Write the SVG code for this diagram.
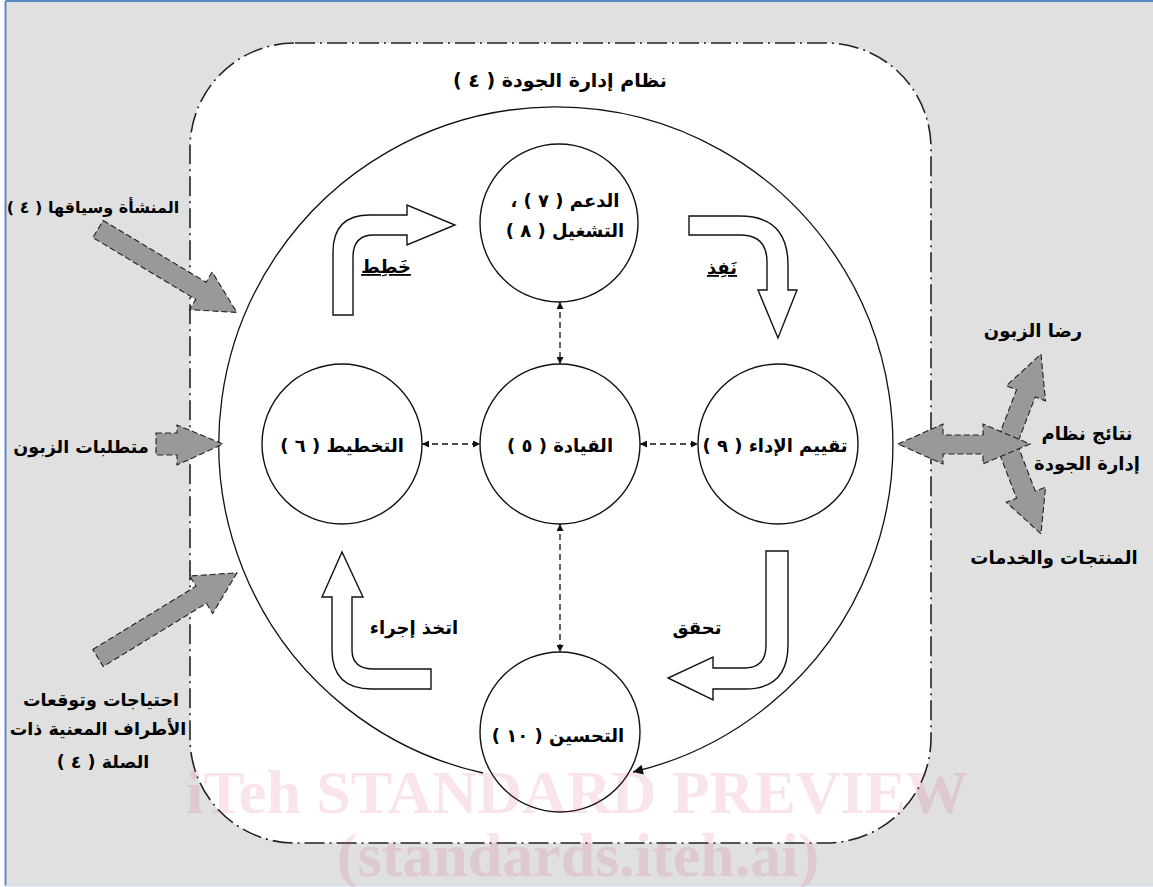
<svg xmlns="http://www.w3.org/2000/svg" width="1153" height="887" viewBox="0 0 1153 887">
<style>
.t{font-family:"DejaVu Sans","Noto Sans",sans-serif;font-weight:bold;font-size:18px;fill:#000;direction:rtl;text-anchor:middle}
.node{fill:#fff;stroke:#111;stroke-width:1.4}
.hollow{fill:#fff;stroke:#111;stroke-width:1.4;stroke-linejoin:miter}
.gray{fill:#999;stroke:#222;stroke-width:1.1;stroke-dasharray:6,3}
.conn{fill:none;stroke:#111;stroke-width:1.3;stroke-dasharray:6,4}
.wm{font-family:"Liberation Serif","Times New Roman",serif;font-weight:bold;font-size:62px;fill:#d04060;fill-opacity:0.14;text-anchor:middle}
</style>
<defs>
<marker id="sm" viewBox="0 0 10 10" refX="10" refY="5" markerWidth="7" markerHeight="7" markerUnits="userSpaceOnUse" orient="auto-start-reverse">
<path d="M0,0 L10,5 L0,10 Z" fill="#111"/>
</marker>
<marker id="big" viewBox="0 0 10 10" refX="10" refY="5" markerWidth="16" markerHeight="10" markerUnits="userSpaceOnUse" orient="auto">
<path d="M0,0 L10,5 L0,10 Z" fill="#111"/>
</marker>
</defs>
<rect x="0" y="0" width="1153" height="887" fill="#fff"/>
<rect x="5.5" y="1" width="1160" height="884" fill="#e0e0e0"/>
<line x1="5.5" y1="1" x2="1153" y2="1" stroke="#5b87c5" stroke-width="2"/>
<line x1="5.5" y1="1" x2="5.5" y2="886" stroke="#5b87c5" stroke-width="2"/>
<line x1="5.5" y1="885.5" x2="1153" y2="885.5" stroke="#d5dde8" stroke-width="2"/>
<rect id="qms-boundary" x="190" y="43" width="741" height="800" rx="105" ry="105" fill="#fff" stroke="#222" stroke-width="1.6" stroke-dasharray="20,5,2,5"/>
<text class="t" x="560" y="87" style="font-size:19px">نظام إدارة الجودة ( ٤ )</text>

<g id="connectors">
<path d="M483,773 A337,337 0 1 1 633,772" fill="none" stroke="#111" stroke-width="1.3" marker-end="url(#big)"/>
<line class="conn" x1="560" y1="302" x2="560" y2="364" marker-start="url(#sm)" marker-end="url(#sm)"/>
<line class="conn" x1="422" y1="444" x2="480" y2="444" marker-start="url(#sm)" marker-end="url(#sm)"/>
<line class="conn" x1="640" y1="444" x2="698" y2="444" marker-start="url(#sm)" marker-end="url(#sm)"/>
<line class="conn" x1="560" y1="524" x2="560" y2="652" marker-start="url(#sm)" marker-end="url(#sm)"/>
</g>

<g id="cycle-arrows">
<g id="arrow-plan">
<path class="hollow" d="M333,315 L333,252 Q333,215 370,215 L407,215 L407,205 L455,225 L407,245 L407,235 L374,235 Q353,235 353,257 L353,315 Z"/>
<text class="t" x="386" y="273" text-decoration="underline">خَطِط</text>
</g>
<g id="arrow-do">
<path class="hollow" d="M689,216 L740,216 Q788,216 788,265 L788,290 L797,290 L778,338 L758,290 L767,290 L767,262 Q767,235 740,235 L689,235 Z"/>
<text class="t" x="722" y="274" text-decoration="underline">نَفِذ</text>
</g>
<g id="arrow-check">
<path class="hollow" d="M766,551 L788,551 L788,645 Q788,689 745,689 L713,689 L713,700 L668,678 L713,657 L713,668 L745,668 Q766,668 766,645 Z"/>
<text class="t" x="697" y="634">تحقق</text>
</g>
<g id="arrow-act">
<path class="hollow" d="M431,669 L431,689 L372,689 Q332,689 332,650 L332,597 L322,597 L342,552 L363,597 L352,597 L352,650 Q352,669 374,669 Z"/>
<text class="t" x="414" y="634">اتخذ إجراء</text>
</g>
</g>

<g id="node-support">
<circle class="node" cx="559" cy="223" r="79"/>
<text class="t" x="565" y="207">الدعم ( ٧ ) ،</text>
<text class="t" x="565" y="237">التشغيل ( ٨ )</text>
</g>
<g id="node-leadership">
<circle class="node" cx="560" cy="444" r="80"/>
<text class="t" x="560" y="452">القيادة  ( ٥ )</text>
</g>
<g id="node-planning">
<circle class="node" cx="342" cy="444" r="80"/>
<text class="t" x="342" y="452">التخطيط ( ٦ )</text>
</g>
<g id="node-performance">
<circle class="node" cx="778" cy="444" r="80"/>
<text class="t" x="775" y="452">تقييم الإداء ( ٩ )</text>
</g>
<g id="node-improvement">
<circle class="node" cx="560" cy="732" r="80"/>
<text class="t" x="558" y="742">التحسين  ( ١٠ )</text>
</g>

<g id="input-context">
<polygon class="gray" points="0,-10 120,-10 120,-22 162,0 120,22 120,10 0,10" transform="translate(98,229) rotate(31)"/>
<text class="t" x="93" y="213" style="font-size:16px">المنشأة وسياقها ( ٤ )</text>
</g>
<g id="input-requirements">
<polygon class="gray" points="156,433 177,433 177,425 223,444 177,465 177,455 156,455"/>
<text class="t" x="81" y="453" style="font-size:17.5px">متطلبات الزبون</text>
</g>
<g id="input-parties">
<polygon class="gray" points="0,-10 121,-10 121,-22 163,0 121,22 121,10 0,10" transform="translate(98,658) rotate(-31.5)"/>
<text class="t" x="101" y="706" style="font-size:17.5px">احتياجات وتوقعات</text>
<text class="t" x="98" y="735" style="font-size:17.5px">الأطراف المعنية ذات</text>
<text class="t" x="103" y="768" style="font-size:17.5px">الصلة ( ٤ )</text>
</g>
<g id="output-results">
<polygon class="gray" points="0,-10 50,-10 50,-21 92,0 50,21 50,10 0,10" transform="translate(1008,440) rotate(-69)"/>
<polygon class="gray" points="0,-10 50,-10 50,-21 92,0 50,21 50,10 0,10" transform="translate(1008,448) rotate(69)"/>
<polygon class="gray" points="898,444 943,424 943,435 983,435 983,424 1030,444 983,464 983,454 943,454 943,464"/>
<text class="t" x="1033" y="337">رضا الزبون</text>
<text class="t" x="1087" y="440">نتائج نظام</text>
<text class="t" x="1087" y="470">إدارة الجودة</text>
<text class="t" x="1054" y="564">المنتجات والخدمات</text>
</g>

<text class="wm" x="577" y="813">iTeh STANDARD PREVIEW</text>
<text class="wm" x="578" y="876">(standards.iteh.ai)</text>
</svg>
